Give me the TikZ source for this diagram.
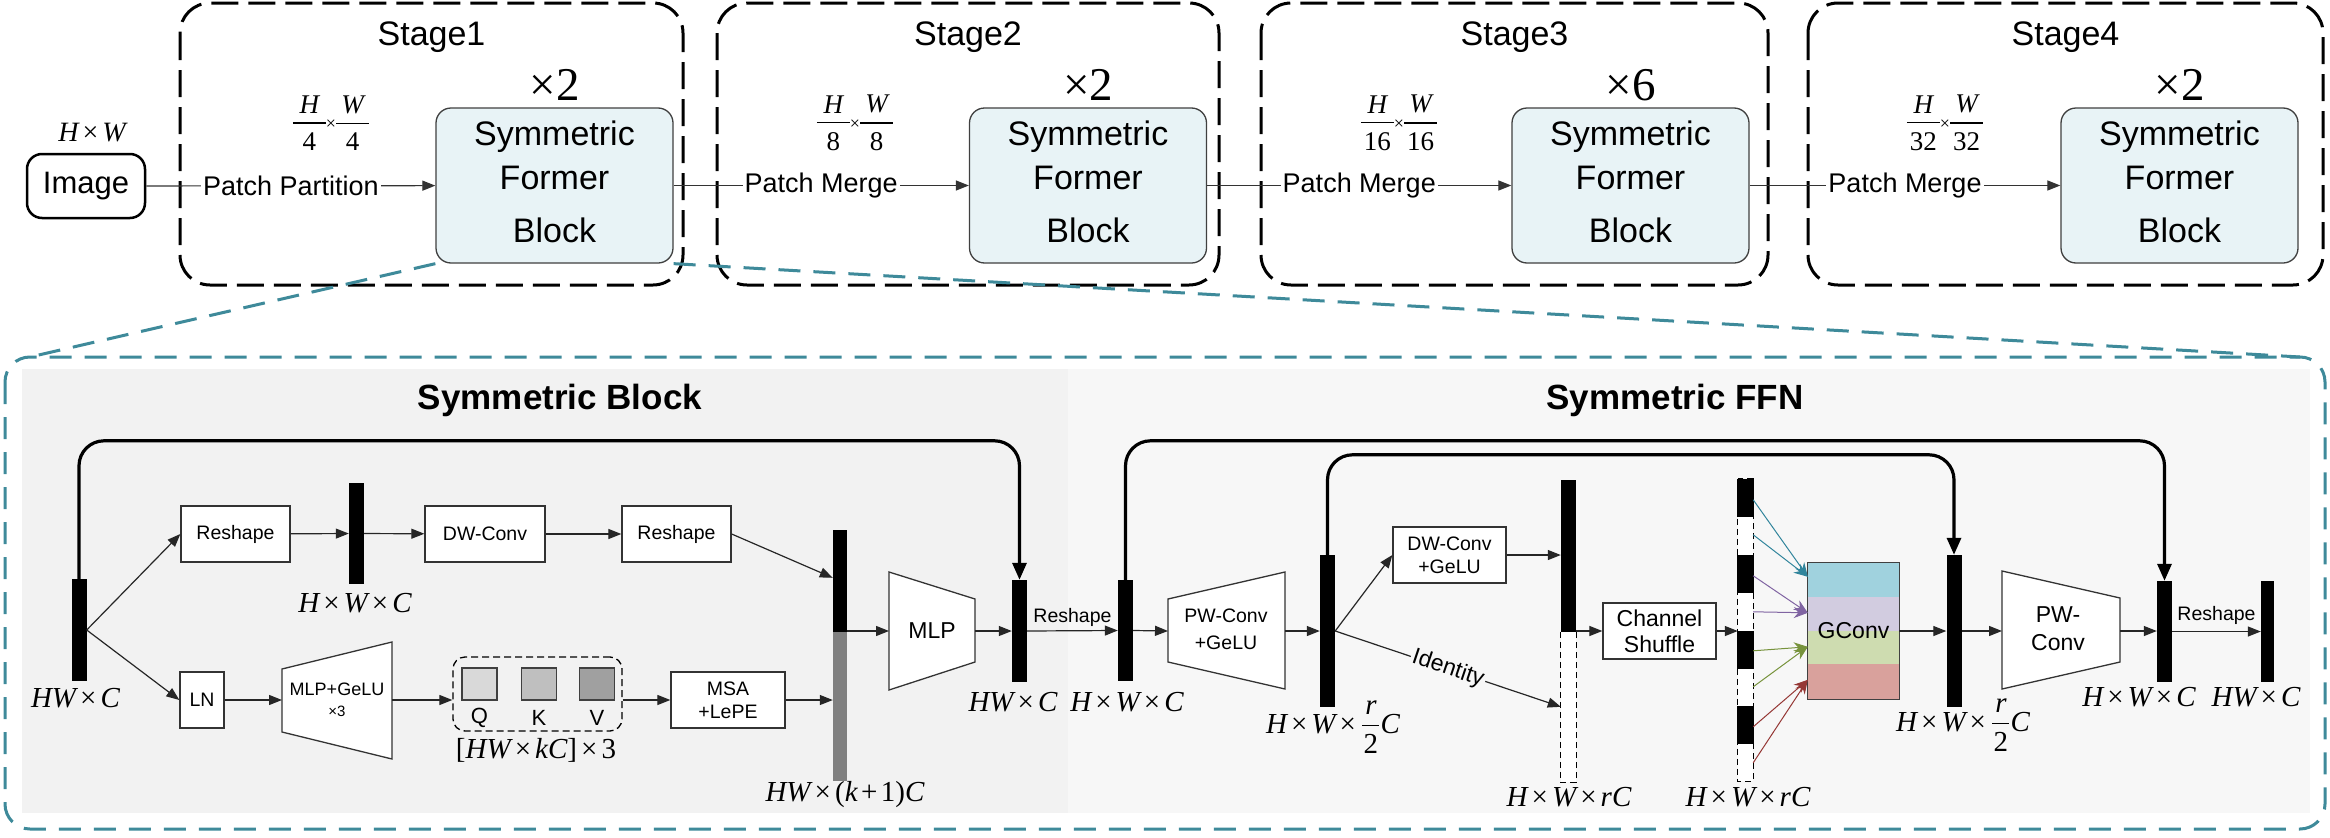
\documentclass[tikz,border=0pt]{standalone}
\usepackage{fontspec}
\setmainfont{Liberation Sans}
\newfontfamily\tnr{Liberation Serif}
\usetikzlibrary{arrows.meta,calc}
\definecolor{tealb}{RGB}{62,138,154}
\definecolor{sfbfill}{RGB}{232,243,246}
\definecolor{gblue}{RGB}{160,210,222}
\definecolor{glav}{RGB}{210,204,224}
\definecolor{ggreen}{RGB}{206,220,176}
\definecolor{gred}{RGB}{217,161,156}
\definecolor{ablue}{RGB}{49,133,156}
\definecolor{apurple}{RGB}{128,100,162}
\definecolor{agreen}{RGB}{119,147,60}
\definecolor{ared}{RGB}{149,55,53}
\definecolor{panelL}{RGB}{242,242,242}
\definecolor{panelR}{RGB}{247,247,247}
\definecolor{qf}{RGB}{217,217,217}
\definecolor{kf}{RGB}{191,191,191}
\definecolor{vf}{RGB}{160,160,160}
\newcommand\mvar[1]{{\tnr\itshape #1}}
\newcommand\mrm[1]{{\tnr #1}}
\newcommand\tms{\hspace{0.14em}{\tnr ×}\hspace{0.14em}}
\newcommand\fsz[2]{\fontsize{#1}{#2}\selectfont}
% stacked fraction: rule width, gap above, gap below, numerator, denominator
\newcommand\stk[5]{\ensuremath{\vcenter{\offinterlineskip\halign{\hfil##\hfil\cr #4\cr\noalign{\kern#2}\rule{#1}{1.3pt}\cr\noalign{\kern#3}#5\cr}}}}
\newcommand\hfr[2]{\stk{33pt}{9pt}{9pt}{#1}{#2}}
\newcommand\rfr{\hspace{0.08em}\stk{17pt}{11pt}{8pt}{\mvar{r}}{\mrm{2}}\hspace{0.04em}}
\begin{document}
\begin{tikzpicture}[x=1pt,y=-1pt,
  every node/.style={inner sep=0pt},
  font=\fsz{19.5}{23},
  lbl/.style={font=\fsz{29}{34}},
  box/.style={draw=black!80, line width=1.3pt, fill=white},
  bar/.style={fill=black, minimum width=15pt},
  con/.style={-{Triangle[length=13pt,width=10pt]}, line width=1.2pt, draw=black!85},
  skipl/.style={-{Triangle[length=17pt,width=14pt]}, line width=3.2pt, rounded corners=25pt},
  stagebox/.style={draw=black, line width=3pt, dash pattern=on 27pt off 10pt, rounded corners=30pt},
  dashw/.style={draw=black, fill=white, line width=1pt, dash pattern=on 6pt off 4pt}]
\fill[white] (0,0) rectangle (2330,838);
\useasboundingbox (0,0) rectangle (2330,838);

% ---------- lower panel ----------
\fill[panelL] (22,369) rectangle (1068,813);
\fill[panelR] (1068,369) rectangle (2310,813);
\draw[tealb, line width=3pt, dash pattern=on 22pt off 13pt, rounded corners=25pt] (5,357) rectangle (2325,829);

% ---------- upper part ----------
\node[draw, line width=2.5pt, rounded corners=15pt, minimum width=118pt, minimum height=64pt, font=\fsz{31}{36}] (img) at (86,186) {Image};
\node[font=\fsz{28}{32}] (imgl) at (92,133) {\mvar{H}\tms\mvar{W}};

\foreach \i/\bl/\br/\cx/\m/\fx/\den in {1/180/683/554.5/2/331/4, 2/717/1219/1088/2/855/8, 3/1261/1768/1630.5/6/1399/16, 4/1808/2323/2179.5/2/1945/32}{
  \draw[stagebox] (\bl,3) rectangle (\br,285);
  \node[font=\fsz{34}{40}] (st\i) at ({(\bl+\br)/2},37) {Stage\i};
  \node[draw=black!75, line width=1.3pt, fill=sfbfill, rounded corners=15pt, minimum width=237pt, minimum height=155pt] (sfb\i) at (\cx,185.5) {};
  \node[font=\fsz{34}{40}, anchor=base] (sfb\i-a) at (\cx,145) {Symmetric};
  \node[font=\fsz{34}{40}, anchor=base] (sfb\i-b) at (\cx,189) {Former};
  \node[font=\fsz{34}{40}, anchor=base] (sfb\i-c) at (\cx,242) {Block};
  \node[font=\fsz{47}{52}] (mul\i) at (\cx,85) {\mrm{×\m}};
  \node[font=\fsz{27}{32}] (fr\i) at (\fx,123) {\hfr{\mvar{H}}{\mrm{\den}}\raisebox{0pt}{\fsz{18}{20}\mrm{×}}\hfr{\mvar{W}}{\mrm{\den}}};
}

\draw[con, draw=black!80] (img) -- node[fill=white, inner sep=2pt, font=\fsz{27}{32}] (pp) {Patch Partition} (sfb1);
\draw[con, draw=black!80] (sfb1) -- node[fill=white, inner sep=2pt, font=\fsz{27}{32}] (pm2) {Patch Merge} (sfb2);
\draw[con, draw=black!80] (sfb2) -- node[fill=white, inner sep=2pt, font=\fsz{27}{32}] (pm3) {Patch Merge} (sfb3);
\draw[con, draw=black!80] (sfb3) -- node[fill=white, inner sep=2pt, font=\fsz{27}{32}] (pm4) {Patch Merge} (sfb4);

\coordinate (ltl) at (30,357);
\coordinate (ltr) at (2300,357);
\draw[tealb, line width=3pt, dash pattern=on 22pt off 13pt] (sfb1.south west) -- (ltl);
\draw[tealb, line width=3pt, dash pattern=on 22pt off 13pt] (sfb1.south east) -- (ltr);

% ---------- titles ----------
\node[font=\bfseries\fsz{35}{40}] (tblock) at (560,400) {Symmetric Block};
\node[font=\bfseries\fsz{35}{40}] (tffn) at (1675,400) {Symmetric FFN};

% ---------- bars ----------
\node[bar, minimum height=102pt] (bA) at (79,630) {};
\node[bar, minimum height=101pt] (bB) at (356.5,533.5) {};
\node[minimum width=14pt, minimum height=251pt] (bC) at (840,655.5) {};
\fill[black] (bC.north west) rectangle ($(bC.north east)+(0,102)$);
\fill[black!50] ($(bC.north west)+(0,102)$) rectangle (bC.south east);
\node[bar, minimum height=102pt] (bD) at (1019.5,631) {};
\node[bar, minimum height=101pt] (bE) at (1125.5,630.5) {};
\node[bar, minimum height=152pt] (bF) at (1327.5,631) {};
\node[minimum width=15pt, minimum height=302pt] (bG) at (1568.5,631) {};
\draw[dashw] ($(bG.north west)+(0,152)$) rectangle (bG.south east);
\fill[black] (bG.north west) rectangle ($(bG.north east)+(0,152)$);
\node[minimum width=15pt, minimum height=302pt] (bH) at (1745.5,630) {};
\draw[dashw] (bH.north west) rectangle (bH.south east);
\foreach \s in {0,76,152,227}{
  \fill[black] ($(bH.north west)+(-0.5,\s)$) rectangle ($(bH.north east)+(0.5,\s+38)$);
}
\node[bar, minimum height=152pt] (bI) at (1954,631) {};
\node[bar, minimum height=101pt] (bJ) at (2164.5,631.5) {};
\node[bar, minimum width=13pt, minimum height=101pt] (bK) at (2267.5,631.5) {};

% ---------- boxes ----------
\node[box, minimum width=109pt, minimum height=56pt] (rs1) at (235.5,534) {Reshape};
\node[box, minimum width=120pt, minimum height=56pt] (dw) at (485,534) {DW-Conv};
\node[box, minimum width=109pt, minimum height=56pt] (rs2) at (676.5,534) {Reshape};
\node[box, minimum width=44pt, minimum height=56pt] (ln) at (202,700) {LN};
\node[box, minimum width=114pt, minimum height=56pt, align=center] (msa) at (728,700) {MSA\\+LePE};
\node[box, minimum width=113pt, minimum height=56pt, align=center] (dwg) at (1449.5,555) {DW-Conv\\+GeLU};
\node[box, minimum width=113pt, minimum height=56pt, align=center, font=\fsz{23}{26}] (cs) at (1659.5,631) {Channel\\Shuffle};

% trapezoids
\draw[box] (282,669) -- (392,642) -- (392,759) -- (282,732) -- cycle;
\coordinate (mgin) at (282,700); \coordinate (mgout) at (392,700);
\node[font=\fsz{18}{20}] (mgt) at (337,689) {MLP+GeLU};
\node[font=\fsz{15}{18}] (mgx) at (337,711) {×3};

\draw[box] (889,572) -- (975,599) -- (975,662) -- (889,690) -- cycle;
\coordinate (mlpin) at (889,631); \coordinate (mlpout) at (975,631);
\node[font=\fsz{23}{26}] (mlpt) at (932,631) {MLP};

\draw[box] (1168,599) -- (1285,572) -- (1285,689) -- (1168,662) -- cycle;
\coordinate (pw1in) at (1168,631); \coordinate (pw1out) at (1285,631);
\node[align=center, font=\fsz{19.5}{27}] (pw1t) at (1226,629) {PW-Conv\\+GeLU};

\draw[box] (2002,571) -- (2120,598) -- (2120,662) -- (2002,689) -- cycle;
\coordinate (pw2in) at (2002,631); \coordinate (pw2out) at (2120,631);
\node[align=center, font=\fsz{23}{28}] (pw2t) at (2058,629) {PW-\\Conv};

% QKV
\node[draw, line width=1.3pt, dash pattern=on 7pt off 4pt, rounded corners=12pt, minimum width=169pt, minimum height=74pt] (qkv) at (537.5,694) {};
\node[draw=black!75, line width=1.2pt, fill=qf, minimum width=35pt, minimum height=32pt] (q) at (479.5,684) {};
\node[draw=black!75, line width=1.2pt, fill=kf, minimum width=35pt, minimum height=32pt] (k) at (539,684) {};
\node[draw=black!75, line width=1.2pt, fill=vf, minimum width=35pt, minimum height=32pt] (v) at (597,684) {};
\node[font=\fsz{22}{26}] (ql) at (479.5,718) {Q};
\node[font=\fsz{22}{26}] (kl) at (539,718) {K};
\node[font=\fsz{22}{26}] (vl) at (597,718) {V};

% GConv
\node[minimum width=91pt, minimum height=136pt] (gc) at (1853.5,631) {};
\fill[gblue] (gc.north west) rectangle ($(gc.north east)+(0,34)$);
\fill[glav] ($(gc.north west)+(0,34)$) rectangle ($(gc.north east)+(0,68)$);
\fill[ggreen] ($(gc.north west)+(0,68)$) rectangle ($(gc.north east)+(0,101)$);
\fill[gred] ($(gc.north west)+(0,101)$) rectangle (gc.south east);
\draw[black!75, line width=1.3pt] (gc.north west) rectangle (gc.south east);
\node[font=\fsz{23}{26}] (gct) at (1853.5,631) {GConv};

% ---------- connectors ----------
\draw[con] (bA.east) -- (rs1.west);
\draw[con] (bA.east) -- (ln.west);
\draw[con] (rs1) -- (bB);
\draw[con] (bB) -- (dw);
\draw[con] (dw) -- (rs2);
\draw[con] (rs2.east) -- ($(bC.north west)+(0,48)$);
\draw[con] (ln) -- (mgin);
\draw[con] (mgout) -- (mgout -| qkv.west);
\draw[con] (msa.west -| qkv.east) -- (msa.west);
\draw[con] (msa.east) -- (msa.east -| bC.west);
\draw[con] (bC.east |- mlpin) -- (mlpin);
\draw[con] (mlpout) -- (mlpout -| bD.west);
\draw[con] (bD.east) -- node[above=4pt, font=\fsz{19.5}{23}] (rsl1) {Reshape} (bE.west);
\draw[con] (bE.east) -- (pw1in);
\draw[con] (pw1out) -- (pw1out -| bF.west);
\draw[con] (bF.east) -- (dwg.west);
\draw[con] (bF.east) -- node[sloped, fill=panelR, inner sep=2pt, font=\fsz{23}{26}] (idl) {Identity} ($(bG.north west)+(0,227)$);
\draw[con] (dwg.east) -- (dwg.east -| bG.west);
\draw[con] (bG.east |- cs.west) -- (cs.west);
\draw[con] (cs.east) -- (cs.east -| bH.west);
\foreach \c/\a/\b/\t in {ablue/21/56/14, apurple/97/133/50, agreen/172/208/84, ared/248/284/117}{
  \draw[\c, line width=1pt, -{Stealth[length=14pt,width=11pt]}] ($(bH.north east)+(0,\a)$) -- ($(gc.north west)+(0,\t)$);
  \draw[\c, line width=1pt, -{Stealth[length=14pt,width=11pt]}] ($(bH.north east)+(0,\b)$) -- ($(gc.north west)+(0,\t)$);
}
\draw[con] (gc.east) -- (gc.east -| bI.west);
\draw[con] (bI.east) -- (pw2in);
\draw[con] (pw2out) -- (pw2out -| bJ.west);
\draw[con] (bJ.east) -- node[above=6pt, font=\fsz{19.5}{23}] (rsl2) {Reshape} (bK.west);

% skip connections
\draw[skipl] (bA.north) -- ++(0,-138) -| (bD.north);
\draw[skipl] (bE.north) -- ++(0,-139) -| (bJ.north);
\draw[skipl] (bF.north) -- ++(0,-100) -| (bI.north);

% ---------- dimension labels ----------
\node[lbl] (lA) at (75.5,698) {\mvar{HW}\tms\mvar{C}};
\node[lbl] (lB) at (355,603) {\mvar{H}\tms\mvar{W}\tms\mvar{C}};
\node[lbl] (lQ) at (536,750) {\mrm{[}\mvar{HW}\tms\mvar{kC}\mrm{]}\tms\mrm{3}};
\node[lbl] (lC) at (845,795) {\mvar{HW}\tms\mrm{(}\mvar{k}\hspace{0.12em}\mrm{+}\hspace{0.12em}\mrm{1)}\mvar{C}};
\node[lbl] (lD) at (1013,702) {\mvar{HW}\tms\mvar{C}};
\node[lbl] (lE) at (1127,702) {\mvar{H}\tms\mvar{W}\tms\mvar{C}};
\node[lbl] (lF) at (1333,727) {\mvar{H}\tms\mvar{W}\tms\rfr\mvar{C}};
\node[lbl] (lG) at (1569,797) {\mvar{H}\tms\mvar{W}\tms\mvar{rC}};
\node[lbl] (lH) at (1748,797) {\mvar{H}\tms\mvar{W}\tms\mvar{rC}};
\node[lbl] (lI) at (1963,725) {\mvar{H}\tms\mvar{W}\tms\rfr\mvar{C}};
\node[lbl] (lJ) at (2139,697) {\mvar{H}\tms\mvar{W}\tms\mvar{C}};
\node[lbl] (lK) at (2256,697) {\mvar{HW}\tms\mvar{C}};
\end{tikzpicture}
\end{document}
